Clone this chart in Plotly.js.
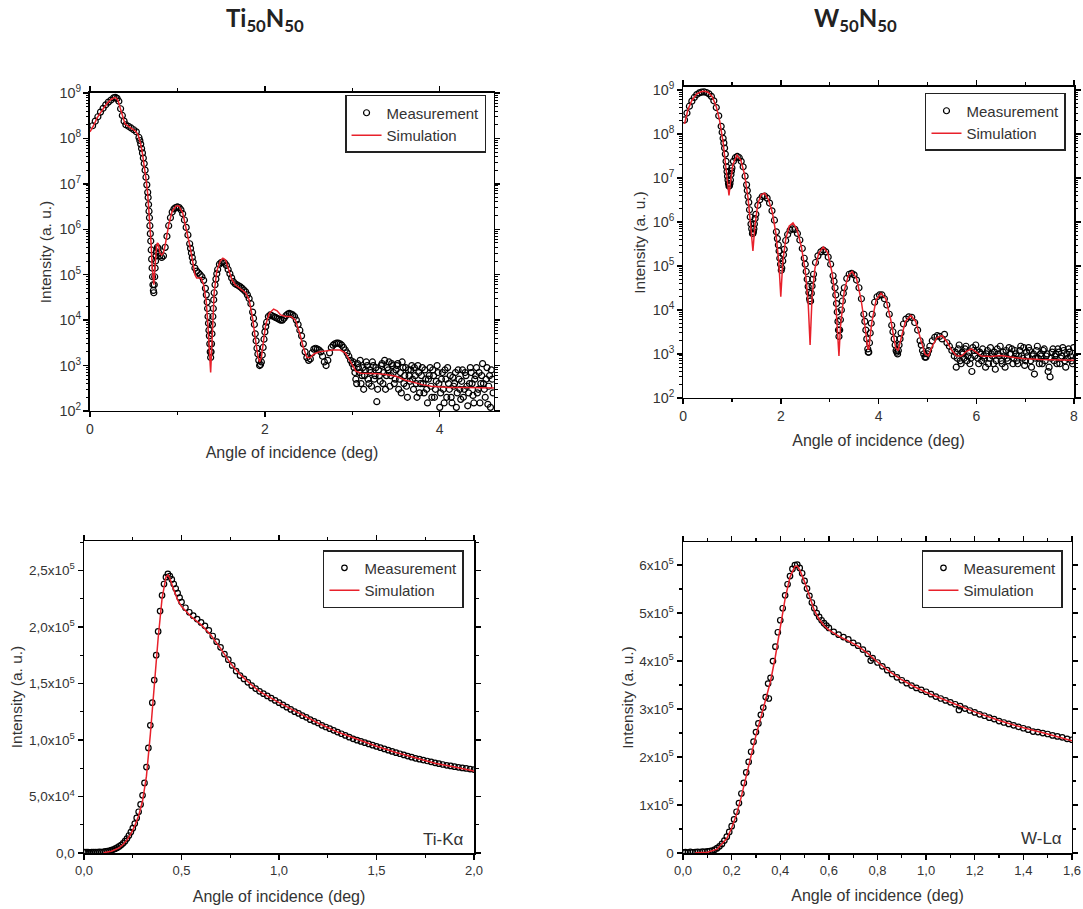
<!DOCTYPE html>
<html>
<head>
<meta charset="utf-8">
<script src="https://cdn.plot.ly/plotly-3.0.1.min.js"></script>
<style>
html,body{margin:0;padding:0;background:#fff;}
#chart{width:1083px;height:909px;}
</style>
</head>
<body>
<div id="chart"></div>
<script>
// ---------- Panel 1: Ti50N50 reflectivity ----------
const tiXrrMeasX = [0.03,0.06,0.09,0.12,0.15,0.18,0.21,0.24,0.27,0.29,0.31,0.33,0.35,0.37,0.39,0.41,0.44,0.47,0.50,0.53,0.56,0.58,0.60,0.62,0.64,0.66,0.67,0.68,0.69,0.70,0.71,0.72,0.73,0.74,0.75,0.76,0.77,0.78,0.79,0.80,0.82,0.84,0.86,0.88,0.90,0.92,0.94,0.96,0.98,1.00,1.02,1.04,1.06,1.08,1.10,1.12,1.14,1.16,1.18,1.20,1.22,1.24,1.26,1.28,1.30,1.32,1.34,1.35,1.36,1.37,1.38,1.39,1.40,1.41,1.42,1.44,1.46,1.48,1.50,1.52,1.54,1.56,1.58,1.60,1.62,1.64,1.66,1.68,1.70,1.72,1.74,1.76,1.78,1.80,1.82,1.84,1.86,1.88,1.90,1.92,1.94,1.96,1.98,2.00,2.02,2.04,2.06,2.08,2.10,2.12,2.14,2.16,2.18,2.20,2.22,2.24,2.26,2.28,2.30,2.32,2.34,2.36,2.38,2.40,2.42,2.44,2.46,2.48,2.50,2.52,2.54,2.56,2.58,2.60,2.62,2.64,2.66,2.68,2.70,2.72,2.74,2.76,2.78,2.80,2.82,2.84,2.86,2.88,2.90,2.92,2.94,2.96,2.98,3.00,
3.02,3.04,3.06,3.08,3.10,3.12,3.14,3.16,3.18,3.20,3.22,3.24,3.26,3.28,3.30,3.32,3.34,3.36,3.38,3.40,3.42,3.44,3.46,3.48,3.50,3.52,3.54,3.56,3.58,3.60,3.62,3.64,3.66,3.68,3.70,3.72,3.74,3.76,3.78,3.80,3.82,3.84,3.86,3.88,3.90,3.92,3.94,3.96,3.98,4.00,4.02,4.04,4.06,4.08,4.10,4.12,4.14,4.16,4.18,4.20,4.22,4.24,4.26,4.28,4.30,4.32,4.34,4.36,4.38,4.40,4.42,4.44,4.46,4.48,4.50,4.52,4.54,4.56,4.58,4.60];
const tiXrrMeasY = [1.9e8,2.4e8,3.0e8,3.8e8,4.6e8,5.5e8,6.3e8,7.0e8,7.8e8,8.0e8,7.6e8,6.6e8,4.5e8,3.2e8,2.4e8,2.0e8,1.85e8,1.7e8,1.55e8,1.4e8,1.05e8,7.5e7,4.8e7,2.8e7,1.4e7,6.5e6,3.5e6,1.8e6,8e5,3.5e5,1.4e5,6e4,4e4,9e4,2e5,3.2e5,4e5,3.8e5,3.0e5,2.6e5,2.4e5,2.6e5,4.0e5,7.0e5,1.2e6,1.8e6,2.4e6,2.8e6,3.0e6,3.1e6,3.0e6,2.7e6,2.2e6,1.6e6,1.1e6,7.5e5,4.8e5,3.0e5,1.9e5,1.4e5,1.2e5,1.1e5,1.0e5,9.0e4,7.5e4,5.0e4,2.5e4,1.2e4,6e3,3e3,1.5e3,3e3,8e3,1.8e4,4e4,8e4,1.3e5,1.7e5,1.85e5,1.9e5,1.8e5,1.6e5,1.3e5,1.05e5,8.5e4,7.0e4,6.3e4,6.0e4,5.7e4,5.4e4,5.0e4,4.6e4,4.2e4,3.6e4,3.0e4,2.3e4,1.5e4,8e3,3.5e3,1.8e3,1.0e3,1.2e3,2.5e3,5.5e3,9e3,1.2e4,1.3e4,1.25e4,1.2e4,1.15e4,1.1e4,1.05e4,1.0e4,1.0e4,1.1e4,1.25e4,1.35e4,1.4e4,1.35e4,1.3e4,1.2e4,1.0e4,8e3,6e3,4.5e3,3.0e3,2.0e3,1.5e3,1.3e3,1.4e3,1.9e3,2.3e3,2.4e3,2.3e3,2.2e3,2.0e3,1.6e3,1.2e3,1.0e3,1.3e3,1.9e3,2.5e3,2.8e3,3.0e3,3.1e3,3.1e3,3.0e3,2.8e3,2.5e3,2.2e3,1.9e3,1.6e3,1.3e3,1.1e3,
9e2,5e2,1.1e3,7e2,4e2,9e2,6e2,1.2e3,5e2,8e2,3.5e2,1.0e3,6e2,1.6e2,8e2,4.5e2,1.1e3,7e2,3e2,9e2,1.2e3,6e2,1.0e3,4e2,8e2,1.1e3,5e2,2.5e2,9e2,6e2,3.5e2,8e2,4.5e2,1.0e3,3e2,6e2,2e2,7e2,4e2,9e2,2.5e2,5e2,1.5e2,6e2,3.5e2,8e2,2e2,4.5e2,7e2,1.2e2,5e2,3e2,8e2,2e2,4e2,6e2,1.5e2,3.5e2,7e2,2.5e2,5e2,1.8e2,8e2,3e2,6e2,1.3e2,4e2,7e2,2.2e2,5e2,9e2,3e2,1.5e2,6e2,4e2,2e2,9e2,3.5e2,1.2e2,5e2];
const tiXrrMeasExtraX = [0.57,0.59,0.61,0.63,0.65,0.665,0.675,0.685,0.695,0.705,0.715,0.725,0.735,0.745,0.755,1.15,1.17,1.33,1.345,1.355,1.365,1.375,1.385,1.395,1.405,1.415,1.43,1.45,1.87,1.89,1.91,1.93,1.95,1.97,1.99,2.01,
3.01,3.03,3.05,3.07,3.09,3.11,3.13,3.15,3.17,3.19,3.21,3.23,3.25,3.27,3.29,3.31,3.33,3.35,3.37,3.39,3.41,3.43,3.45,3.47,3.49,3.51,3.53,3.55,3.57,3.59,3.61,3.63,3.65,3.67,3.69,3.71,3.73,3.75,3.77,3.79,3.81,3.83,3.85,3.87,3.89,3.91,3.93,3.95,3.97,3.99,4.01,4.03,4.05,4.07,4.09,4.11,4.13,4.15,4.17,4.19,4.21,4.23,4.25,4.27,4.29,4.31,4.33,4.35,4.37,4.39,4.41,4.43,4.45,4.47,4.49,4.51,4.53,4.55,4.57,4.59,4.61];
const tiXrrMeasExtraY = [9e7,6e7,3.7e7,2.0e7,9.5e6,5e6,2.5e6,1.2e6,5.5e5,2.2e5,9e4,4.5e4,6e4,1.4e5,2.6e5,3.8e5,2.4e5,3.6e4,1.8e4,8.5e3,4.5e3,2e3,2e3,5e3,1.2e4,2.8e4,6e4,1.05e5,1.1e4,5e3,2.4e3,1.3e3,1.05e3,1.7e3,3.8e3,7.2e3,
1.2e3,7e2,4e2,9e2,1.3e3,6e2,3e2,8e2,1.0e3,4e2,7e2,1.2e3,5e2,9e2,3e2,6e2,1.0e3,4e2,1.3e3,6e2,8e2,3.5e2,1.1e3,7e2,5e2,1.0e3,3e2,7e2,1.2e3,4e2,9e2,2e2,6e2,8e2,5e2,9e2,4e2,1.0e3,2.5e2,6e2,4e2,8e2,3e2,5e2,9e2,2e2,6e2,3e2,1.0e3,4e2,2.5e2,7e2,1.5e2,5e2,9e2,3e2,2e2,5.5e2,4e2,1.2e2,8e2,3e2,4.5e2,2e2,7e2,3.5e2,2.5e2,9e2,4e2,1.5e2,6e2,2.5e2,7e2,4e2,1.1e3,3e2,5e2,1.4e2,6e2,8e2,2.5e2];
const tiXrrSimX = [0.00,0.04,0.08,0.12,0.16,0.20,0.24,0.28,0.30,0.32,0.34,0.36,0.38,0.40,0.44,0.48,0.52,0.55,0.58,0.60,0.62,0.64,0.66,0.68,0.70,0.71,0.72,0.73,0.74,0.75,0.76,0.77,0.78,0.79,0.80,0.82,0.84,0.86,0.88,0.90,0.94,0.98,1.00,1.02,1.06,1.10,1.14,1.18,1.20,1.22,1.24,1.27,1.30,1.33,1.35,1.37,1.38,1.39,1.40,1.42,1.45,1.49,1.52,1.55,1.58,1.62,1.66,1.72,1.78,1.82,1.86,1.89,1.92,1.94,1.96,1.98,2.01,2.05,2.10,2.14,2.18,2.24,2.30,2.35,2.40,2.44,2.48,2.52,2.56,2.62,2.70,2.78,2.86,2.92,2.98,3.04,3.10,3.20,3.30,3.40,3.50,3.60,3.70,3.80,3.90,4.00,4.10,4.30,4.62];
const tiXrrSimY = [1.4e8,1.9e8,2.8e8,3.7e8,4.8e8,6.0e8,7.2e8,7.9e8,7.7e8,6.8e8,5.0e8,3.4e8,2.5e8,2.1e8,1.85e8,1.65e8,1.45e8,1.2e8,7.5e7,4.6e7,2.7e7,1.3e7,6e6,1.8e6,4.5e5,1.6e5,8e4,6e4,1.2e5,2.5e5,4.0e5,5.0e5,4.8e5,3.8e5,3.0e5,2.7e5,3.0e5,4.5e5,7.5e5,1.25e6,2.5e6,3.2e6,3.3e6,3.2e6,2.3e6,1.1e6,4.5e5,1.7e5,1.0e5,8.5e4,8.5e4,8.5e4,6e4,2.5e4,7e3,2e3,7e2,2e3,8e3,4e4,1.2e5,2.0e5,2.3e5,2.1e5,1.4e5,8e4,6e4,5.0e4,4.0e4,2.8e4,1.1e4,4e3,1.6e3,1.2e3,1.5e3,3e3,8e3,1.4e4,1.75e4,1.6e4,1.3e4,1.2e4,1.2e4,1.0e4,5e3,2.5e3,1.5e3,1.5e3,1.8e3,2.0e3,2.1e3,2.2e3,2.2e3,1.9e3,1.2e3,7.5e2,6.8e2,6.8e2,6.6e2,6.3e2,5.8e2,4.8e2,4.2e2,3.8e2,3.5e2,3.4e2,3.3e2,3.3e2,3.2e2];

// ---------- Panel 2: W50N50 reflectivity ----------
const wXrrMeasX = [0.03,0.08,0.13,0.18,0.23,0.28,0.33,0.38,0.43,0.48,0.53,0.58,0.63,0.68,0.73,0.78,0.82,0.85,0.88,0.90,0.92,0.94,0.96,0.98,1.00,1.03,1.07,1.11,1.15,1.19,1.23,1.27,1.30,1.33,1.36,1.39,1.42,1.44,1.46,1.49,1.53,1.57,1.62,1.67,1.72,1.77,1.82,1.87,1.91,1.95,1.98,2.01,2.04,2.07,2.10,2.14,2.19,2.24,2.29,2.34,2.39,2.44,2.48,2.52,2.56,2.59,2.61,2.64,2.67,2.71,2.76,2.82,2.87,2.92,2.97,3.02,3.07,3.11,3.14,3.17,3.19,3.22,3.26,3.30,3.35,3.40,3.45,3.50,3.55,3.60,3.65,3.70,3.74,3.78,3.80,3.83,3.87,3.92,3.97,4.02,4.07,4.12,4.17,4.22,4.27,4.32,4.36,4.39,4.42,4.46,4.51,4.56,4.62,4.68,4.74,4.80,4.85,4.90,4.95,5.00,5.05,5.10,5.15,5.20,5.25,5.30,5.35,5.40,5.45,5.50,
5.55,5.59,5.63,5.67,5.71,5.75,5.79,5.83,5.87,5.91,5.95,5.99,6.03,6.07,6.11,6.15,6.19,6.23,6.27,6.31,6.35,6.39,6.43,6.47,6.51,6.55,6.59,6.63,6.67,6.71,6.75,6.79,6.83,6.87,6.91,6.95,6.99,7.03,7.07,7.11,7.15,7.19,7.23,7.27,7.31,7.35,7.39,7.43,7.47,7.51,7.55,7.59,7.63,7.67,7.71,7.75,7.79,7.83,7.87,7.91,7.95,7.99];
const wXrrMeasY = [2.1e8,3.0e8,4.3e8,5.6e8,6.8e8,7.9e8,8.6e8,9.0e8,9.1e8,8.8e8,8.2e8,7.2e8,5.7e8,4.0e8,2.6e8,1.5e8,8.0e7,4.8e7,2.4e7,1.4e7,9.0e6,6.5e6,7.5e6,1.2e7,1.7e7,2.4e7,2.9e7,3.1e7,2.9e7,2.4e7,1.8e7,1.1e7,7.0e6,3.8e6,1.9e6,9.0e5,5.5e5,6.0e5,9.0e5,1.5e6,2.4e6,3.2e6,3.8e6,3.9e6,3.5e6,2.7e6,1.8e6,1.1e6,6.0e5,3.0e5,1.5e5,8.0e4,1.3e5,2.4e5,3.8e5,5.2e5,6.5e5,7.0e5,6.8e5,5.5e5,3.9e5,2.5e5,1.5e5,7.5e4,3.4e4,1.8e4,1.6e4,3.5e4,6.5e4,1.2e5,1.7e5,2.1e5,2.3e5,2.1e5,1.6e5,1.1e5,6.0e4,3.2e4,1.4e4,5.5e3,2.5e3,6.0e3,1.6e4,3.2e4,5.2e4,6.5e4,6.8e4,6.3e4,4.8e4,3.2e4,1.8e4,8.0e3,3.5e3,1.3e3,1.1e3,3.0e3,8.0e3,1.5e4,2.0e4,2.2e4,2.2e4,1.8e4,1.3e4,8.0e3,4.5e3,2.2e3,1.2e3,1.0e3,1.6e3,3.0e3,4.8e3,6.2e3,7.0e3,6.8e3,5.2e3,3.5e3,2.0e3,1.2e3,8.5e2,1.0e3,1.5e3,2.0e3,2.4e3,2.6e3,2.5e3,2.2e3,2.8e3,1.8e3,1.5e3,1.2e3,
9e2,5e2,1.3e3,7e2,1.1e3,8e2,1.5e3,9e2,6e2,4e2,1.2e3,1.6e3,8e2,1.1e3,7e2,9e2,5e2,1.2e3,8e2,1.0e3,6e2,4.5e2,1.3e3,9e2,7e2,1.1e3,5e2,8e2,1.4e3,1.0e3,6e2,1.2e3,7e2,9e2,1.5e3,8e2,5.5e2,1.1e3,1.4e3,7e2,9e2,3.5e2,1.2e3,8e2,1.0e3,6e2,1.3e3,9e2,4e2,3e2,1.1e3,7e2,1.0e3,1.3e3,6e2,9e2,1.2e3,5e2,8e2,1.1e3,7e2,1.4e3];
const wXrrMeasExtraX = [0.80,0.835,0.865,0.89,0.91,0.93,0.95,0.97,0.99,1.315,1.345,1.375,1.405,1.43,1.45,1.475,1.93,1.965,1.995,2.02,2.055,2.50,2.54,2.575,2.60,2.625,2.655,3.09,3.125,3.155,3.18,3.205,3.24,3.28,3.72,3.76,3.79,3.815,3.85,4.295,4.34,4.375,4.405,4.44,4.875,4.925,4.97,5.025,
5.57,5.61,5.65,5.69,5.73,5.77,5.81,5.85,5.89,5.93,5.97,6.01,6.05,6.09,6.13,6.17,6.21,6.25,6.29,6.33,6.37,6.41,6.45,6.49,6.53,6.57,6.61,6.65,6.69,6.73,6.77,6.81,6.85,6.89,6.93,6.97,7.01,7.05,7.09,7.13,7.17,7.21,7.25,7.29,7.33,7.37,7.41,7.45,7.49,7.53,7.57,7.61,7.65,7.69,7.73,7.77,7.81,7.85,7.89,7.93,7.97];
const wXrrMeasExtraY = [1.1e8,6.3e7,3.5e7,1.8e7,1.1e7,7.5e6,6.8e6,9e6,1.45e7,5.2e6,2.8e6,1.3e6,7e5,5.5e5,7e5,1.2e6,4.2e5,2.2e5,1.1e5,9e4,1.8e5,1.1e5,5e4,2.5e4,1.6e4,2.4e4,5e4,4.5e4,2.2e4,9e3,3.5e3,3.5e3,1.0e4,2.4e4,5.5e3,2.2e3,1.1e3,1.8e3,5e3,3.2e3,1.6e3,1.1e3,1.2e3,2.2e3,1.6e3,1.0e3,8.5e2,1.2e3,
1.1e3,8e2,1.6e3,6e2,1.0e3,1.3e3,7e2,1.1e3,8e2,1.4e3,9e2,1.2e3,6e2,1.0e3,1.3e3,8e2,1.0e3,6e2,1.4e3,9e2,1.1e3,7e2,1.0e3,1.5e3,6e2,9e2,1.2e3,7e2,1.0e3,1.3e3,8e2,1.0e3,6e2,1.2e3,9e2,1.4e3,7e2,9e2,1.2e3,5e2,1.0e3,8e2,1.5e3,6e2,9e2,1.2e3,7e2,1.0e3,5e2,8e2,1.3e3,9e2,6e2,1.1e3,8e2,1.4e3,7e2,1.0e3,1.3e3,9e2,6e2];
const wXrrSimX = [0.03,0.10,0.18,0.28,0.38,0.45,0.52,0.60,0.68,0.75,0.82,0.87,0.91,0.94,0.97,1.02,1.10,1.18,1.26,1.33,1.39,1.43,1.47,1.53,1.60,1.67,1.75,1.83,1.90,1.96,2.00,2.04,2.10,2.17,2.25,2.33,2.42,2.50,2.56,2.60,2.64,2.70,2.78,2.87,2.96,3.05,3.12,3.17,3.19,3.22,3.30,3.38,3.46,3.55,3.64,3.72,3.78,3.80,3.86,3.95,4.05,4.15,4.25,4.35,4.40,4.45,4.55,4.66,4.76,4.86,4.95,5.02,5.10,5.20,5.30,5.40,5.50,5.60,5.70,5.80,5.90,6.00,6.10,6.30,6.50,6.70,7.00,7.30,7.60,8.00];
const wXrrSimY = [1.7e8,3.6e8,5.8e8,8.2e8,9.3e8,9.4e8,8.8e8,7.0e8,4.2e8,2.0e8,6.5e7,2.0e7,7.0e6,4.0e6,8.0e6,2.0e7,3.3e7,2.6e7,1.2e7,3.5e6,7.0e5,2.2e5,8.0e5,2.6e6,4.2e6,4.5e6,3.2e6,1.6e6,5.5e5,1.2e5,2.0e4,1.2e5,4.0e5,8.0e5,9.5e5,6.8e5,2.8e5,8.0e4,1.5e4,1.6e3,2.0e4,9.0e4,2.0e5,2.7e5,2.0e5,7.0e4,1.8e4,2.5e3,9.0e2,4.0e3,2.8e4,6.0e4,7.5e4,5.2e4,1.8e4,4.5e3,1.3e3,1.3e3,5e3,1.7e4,2.4e4,1.8e4,6e3,1.4e3,1.2e3,2.0e3,5.5e3,7.5e3,5.5e3,2.2e3,1.0e3,9.0e2,1.5e3,2.4e3,2.6e3,1.9e3,1.2e3,9e2,9e2,1.15e3,1.3e3,1.1e3,9e2,8.8e2,9.2e2,8.5e2,7.8e2,7.5e2,7.3e2,7.2e2];

// ---------- Panel 3: Ti-Kalpha fluorescence ----------
const tiFluoMeasX = [0.00,0.01,0.02,0.03,0.04,0.05,0.06,0.07,0.08,0.09,0.10,0.11,0.12,0.13,0.14,0.15,0.16,0.17,0.18,0.19,0.20,0.21,0.22,0.23,0.24,0.25,0.26,0.27,0.28,0.29,0.30,0.31,0.32,0.33,0.34,0.35,0.36,0.37,0.38,0.39,0.40,0.41,0.42,0.43,0.44,0.45,0.46,0.47,0.48,0.49,0.50,0.52,0.54,0.56,0.58,0.60,0.62,0.64,0.66,0.68,0.70,0.72,0.74,0.76,0.78,0.80,0.82,0.84,0.86,0.88,0.90,0.92,0.94,0.96,0.98,1.00,1.02,1.04,1.06,1.08,1.10,1.12,1.14,1.16,1.18,1.20,1.22,1.24,1.26,1.28,1.30,1.32,1.34,1.36,1.38,1.40,1.42,1.44,1.46,1.48,1.50,1.52,1.54,1.56,1.58,1.60,1.62,1.64,1.66,1.68,1.70,1.72,1.74,1.76,1.78,1.80,1.82,1.84,1.86,1.88,1.90,1.92,1.94,1.96,1.98,2.00];
const tiFluoMeasY = [800,700,900,600,800,700,900,800,1000,900,1100,1400,1600,2000,2500,3000,3800,4700,5800,7000,8600,10500,12800,15500,18500,22000,26000,31000,36500,43000,51000,62000,76000,93000,113000,133000,153000,175000,196000,214000,228000,238000,244000,247000,245000,242000,238000,234000,230000,226000,222000,217000,213000,210000,207000,204000,201000,197000,192000,187000,182000,176000,171000,166000,161000,157000,154000,151000,148000,145500,143000,141000,139000,137000,135000,133000,131000,129000,127000,125000,123500,121500,120000,118000,116500,115000,113000,111500,110000,108500,107000,105500,104000,102500,101000,99800,98700,97600,96500,95400,94300,93200,92100,91000,89900,88800,87800,86800,85800,84800,83800,83000,82200,81400,80600,79800,79000,78300,77600,77000,76400,75800,75300,74800,74300,73800];
const tiFluoSimX = [0.10,0.14,0.18,0.20,0.22,0.24,0.26,0.28,0.30,0.32,0.34,0.36,0.38,0.40,0.42,0.43,0.44,0.46,0.48,0.50,0.55,0.60,0.65,0.70,0.75,0.80,0.85,0.90,1.00,1.10,1.20,1.30,1.40,1.50,1.60,1.70,1.80,1.90,2.00];
const tiFluoSimY = [300,1500,4500,7500,11500,17000,24000,33000,46000,68000,105000,150000,190000,225000,244000,246000,243000,233000,224000,218000,209000,202000,193000,181000,168000,158000,150000,143000,133000,124000,115000,107000,100500,94500,89000,84000,79500,76000,72500];

// ---------- Panel 4: W-Lalpha fluorescence ----------
const wFluoMeasX = [0.00,0.01,0.02,0.03,0.04,0.05,0.06,0.07,0.08,0.09,0.10,0.11,0.12,0.13,0.14,0.15,0.16,0.17,0.18,0.19,0.20,0.21,0.22,0.23,0.24,0.25,0.26,0.27,0.28,0.29,0.30,0.31,0.32,0.33,0.34,0.35,0.353,0.36,0.37,0.38,0.39,0.40,0.41,0.42,0.43,0.44,0.45,0.46,0.47,0.48,0.49,0.50,0.51,0.52,0.53,0.54,0.55,0.56,0.57,0.58,0.59,0.60,0.62,0.64,0.66,0.68,0.70,0.72,0.74,0.76,0.772,0.78,0.80,0.82,0.84,0.86,0.88,0.90,0.92,0.94,0.96,0.98,1.00,1.02,1.04,1.06,1.08,1.10,1.12,1.135,1.14,1.16,1.18,1.20,1.22,1.24,1.26,1.28,1.30,1.32,1.34,1.36,1.38,1.40,1.42,1.44,1.46,1.48,1.50,1.52,1.54,1.56,1.58,1.60];
const wFluoMeasY = [1500,2000,1000,2500,1500,2000,2500,2000,3000,2500,3500,4000,5000,7000,10000,14000,19000,26000,34000,44000,56000,70000,86000,104000,124000,146000,168000,190000,211000,232000,252000,270000,288000,303000,325000,353000,322000,365000,400000,430000,460000,485000,510000,537000,560000,577000,592000,600000,601000,594000,583000,567000,551000,536000,522000,510000,500000,492000,485000,479000,474000,469000,461000,455000,450000,445000,438000,432000,424000,415000,401000,406000,397000,389000,381000,373000,366000,360000,354000,349000,344000,340000,336000,331000,326000,322000,318000,314000,310000,298000,306000,301000,297000,293000,289000,286000,282000,279000,275000,272000,269000,266000,263000,260000,257000,253000,252000,250000,248000,245000,243000,241000,238000,236000];
const wFluoSimX = [0.05,0.10,0.14,0.18,0.20,0.22,0.24,0.26,0.28,0.30,0.32,0.34,0.36,0.38,0.40,0.42,0.44,0.46,0.47,0.48,0.50,0.52,0.54,0.56,0.58,0.60,0.64,0.68,0.72,0.76,0.80,0.85,0.90,0.95,1.00,1.10,1.20,1.30,1.40,1.50,1.60];
const wFluoSimY = [500,1500,8000,30000,52000,80000,118000,162000,205000,245000,282000,318000,358000,410000,470000,530000,575000,597000,598000,590000,565000,533000,506000,487000,474000,465000,452000,442000,431000,416000,398000,378000,361000,347000,335000,314000,294000,276000,261000,248000,234000];

// ---------- Tick labels ----------
const tiFluoYTickVals = [0, 50000, 100000, 150000, 200000, 250000];
const tiFluoYTickText = ['0,0', '5,0x10<sup>4</sup>', '1,0x10<sup>5</sup>', '1,5x10<sup>5</sup>', '2,0x10<sup>5</sup>', '2,5x10<sup>5</sup>'];
const tiFluoXTickVals = [0, 0.5, 1.0, 1.5, 2.0];
const tiFluoXTickText = ['0,0', '0,5', '1,0', '1,5', '2,0'];
const wFluoYTickVals = [0, 100000, 200000, 300000, 400000, 500000, 600000];
const wFluoYTickText = ['0', '1x10<sup>5</sup>', '2x10<sup>5</sup>', '3x10<sup>5</sup>', '4x10<sup>5</sup>', '5x10<sup>5</sup>', '6x10<sup>5</sup>'];
const wFluoXTickVals = [0, 0.2, 0.4, 0.6, 0.8, 1.0, 1.2, 1.4, 1.6];
const wFluoXTickText = ['0,0', '0,2', '0,4', '0,6', '0,8', '1,0', '1,2', '1,4', '1,6'];

const FONT = 'Liberation Sans, Arial, sans-serif';
const TXT = '#333333';
const RED = '#e8212b';

function meas(x, y, xa, ya, lg, sz) {
  return {x: x, y: y, xaxis: xa, yaxis: ya, legend: lg, name: 'Measurement', type: 'scatter', mode: 'markers',
    marker: {symbol: 'circle-open', size: sz, color: '#000', line: {width: 1.2, color: '#000'}}};
}
function sim(x, y, xa, ya, lg) {
  return {x: x, y: y, xaxis: xa, yaxis: ya, legend: lg, name: 'Simulation', type: 'scatter', mode: 'lines',
    line: {color: RED, width: 1.5}};
}

const data = [
  meas(tiXrrMeasX.concat(tiXrrMeasExtraX), tiXrrMeasY.concat(tiXrrMeasExtraY), 'x', 'y', 'legend', 6),
  sim(tiXrrSimX, tiXrrSimY, 'x', 'y', 'legend'),
  meas(wXrrMeasX.concat(wXrrMeasExtraX), wXrrMeasY.concat(wXrrMeasExtraY), 'x2', 'y2', 'legend2', 6),
  sim(wXrrSimX, wXrrSimY, 'x2', 'y2', 'legend2'),
  meas(tiFluoMeasX, tiFluoMeasY, 'x3', 'y3', 'legend3', 5.5), sim(tiFluoSimX, tiFluoSimY, 'x3', 'y3', 'legend3'),
  meas(wFluoMeasX, wFluoMeasY, 'x4', 'y4', 'legend4', 5.5), sim(wFluoSimX, wFluoSimY, 'x4', 'y4', 'legend4')
];

function axisBase(extra) {
  return Object.assign({
    showline: true, linecolor: '#000', linewidth: 1.5, mirror: 'ticks',
    ticks: 'outside', ticklen: 5, tickwidth: 1.5, tickcolor: '#000',
    showgrid: false, zeroline: false, fixedrange: true,
    tickfont: {family: FONT, size: 13, color: TXT}
  }, extra);
}
const xTitle = (st) => ({text: 'Angle of incidence (deg)', font: {family: FONT, size: 16, color: TXT}, standoff: st});
const yTitle = (st) => ({text: 'Intensity (a. u.)', font: {family: FONT, size: 15.5, color: TXT}, standoff: st});
const minorLog = {dtick: 'D1', ticks: 'outside', ticklen: 2.5, tickwidth: 1, tickcolor: '#000'};
const legendBase = (x, y) => ({x: x, y: y, xanchor: 'right', yanchor: 'top', xref: 'paper', yref: 'paper',
  bgcolor: '#fff', bordercolor: '#222', borderwidth: 1.5, font: {family: FONT, size: 15, color: TXT},
  itemwidth: 30, tracegroupgap: 0});

const layout = {
  width: 1083, height: 909, margin: {l: 0, r: 0, t: 0, b: 0},
  paper_bgcolor: '#fff', plot_bgcolor: '#fff', showlegend: true,
  xaxis: axisBase({domain: [0.0831, 0.4561], anchor: 'y', range: [0, 4.62], tick0: 0, dtick: 2,
    tickfont: {family: FONT, size: 14, color: TXT},
    minor: {dtick: 1, ticks: 'outside', ticklen: 3, tickwidth: 1.2, tickcolor: '#000'}, title: xTitle(10)}),
  yaxis: axisBase({domain: [0.5479, 0.8977], anchor: 'x', type: 'log', range: [2, 9], dtick: 1,
    exponentformat: 'power', tickfont: {family: FONT, size: 11.5, color: TXT}, minor: minorLog, title: yTitle(4)}),
  xaxis2: axisBase({domain: [0.6307, 0.9917], anchor: 'y2', range: [0, 8], tick0: 0, dtick: 2,
    tickfont: {family: FONT, size: 14, color: TXT},
    minor: {dtick: 1, ticks: 'outside', ticklen: 3, tickwidth: 1.2, tickcolor: '#000'}, title: xTitle(11)}),
  yaxis2: axisBase({domain: [0.5622, 0.9043], anchor: 'x2', type: 'log', range: [2, 9.07], dtick: 1,
    exponentformat: 'power', tickfont: {family: FONT, size: 11.5, color: TXT}, minor: minorLog, title: yTitle(3)}),
  xaxis3: axisBase({domain: [0.0776, 0.4377], anchor: 'y3', range: [0, 2], tickmode: 'array',
    tickvals: tiFluoXTickVals, ticktext: tiFluoXTickText,
    minor: {dtick: 0.25, ticks: 'outside', ticklen: 3, tickwidth: 1.2, tickcolor: '#000'}, title: xTitle(13)}),
  yaxis3: axisBase({domain: [0.0616, 0.4048], anchor: 'x3', range: [0, 276000], tickmode: 'array',
    tickvals: tiFluoYTickVals, ticktext: tiFluoYTickText, tickfont: {family: FONT, size: 13.5, color: TXT},
    minor: {dtick: 25000, tick0: 0, ticks: 'outside', ticklen: 3, tickwidth: 1.2, tickcolor: '#000'}, title: yTitle(2)}),
  xaxis4: axisBase({domain: [0.6307, 0.9898], anchor: 'y4', range: [0, 1.6], tickmode: 'array',
    tickvals: wFluoXTickVals, ticktext: wFluoXTickText,
    minor: {dtick: 0.1, ticks: 'outside', ticklen: 3, tickwidth: 1.2, tickcolor: '#000'}, title: xTitle(12)}),
  yaxis4: axisBase({domain: [0.0616, 0.4037], anchor: 'x4', range: [0, 648000], tickmode: 'array',
    tickvals: wFluoYTickVals, ticktext: wFluoYTickText, tickfont: {family: FONT, size: 13.5, color: TXT},
    minor: {dtick: 50000, tick0: 0, ticks: 'outside', ticklen: 3, tickwidth: 1.2, tickcolor: '#000'}, title: yTitle(2)}),
  legend: legendBase(0.4488, 0.8955),
  legend2: legendBase(0.9843, 0.8977),
  legend3: legendBase(0.4284, 0.3949),
  legend4: legendBase(0.9815, 0.3949),
  annotations: [
    {text: '<b>Ti<sub>50</sub>N<sub>50</sub></b>', x: 265 / 1083, y: 1 - 20 / 909, xref: 'paper', yref: 'paper',
      xanchor: 'center', yanchor: 'middle', showarrow: false, font: {family: 'Lato, ' + FONT, size: 24, color: '#222'}},
    {text: '<b>W<sub>50</sub>N<sub>50</sub></b>', x: 855 / 1083, y: 1 - 20 / 909, xref: 'paper', yref: 'paper',
      xanchor: 'center', yanchor: 'middle', showarrow: false, font: {family: 'Lato, ' + FONT, size: 24, color: '#222'}},
    {text: 'Ti-K\u03b1', x: 443 / 1083, y: 1 - 839 / 909, xref: 'paper', yref: 'paper',
      xanchor: 'center', yanchor: 'middle', showarrow: false, font: {family: FONT, size: 17, color: TXT}},
    {text: 'W-L\u03b1', x: 1041 / 1083, y: 1 - 838 / 909, xref: 'paper', yref: 'paper',
      xanchor: 'center', yanchor: 'middle', showarrow: false, font: {family: FONT, size: 17, color: TXT}}
  ]
};

Plotly.newPlot('chart', data, layout, {staticPlot: true, displayModeBar: false});
</script>
</body>
</html>
